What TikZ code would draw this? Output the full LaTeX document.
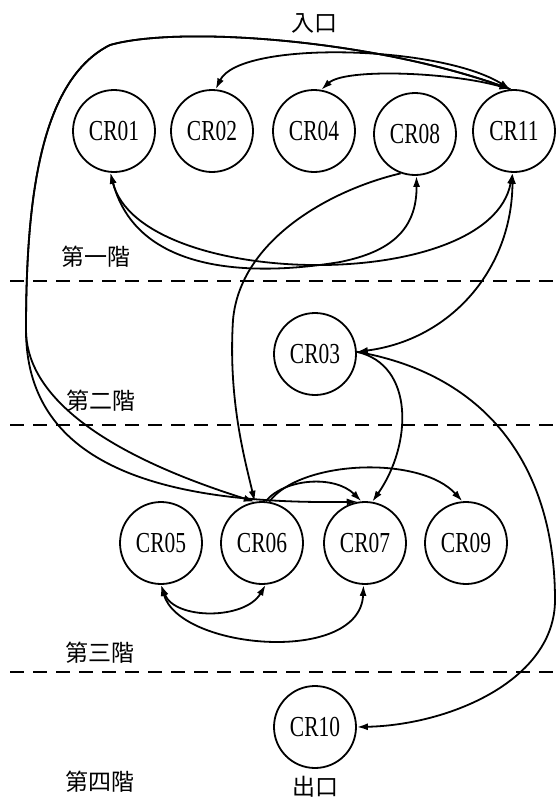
\documentclass[tikz,border=0pt]{standalone}
\usepackage{fontspec}
\setmainfont{Liberation Serif}
\newfontfamily\cjk{Noto Sans CJK TC}
\usetikzlibrary{arrows.meta}
\newcommand\crtext[1]{\scalebox{0.74}[1]{\fontsize{29}{29}\selectfont #1}}
\tikzset{
  room/.style={circle, draw, line width=1.8pt, minimum size=82pt, inner sep=0pt},
  floorlab/.style={font=\cjk\fontsize{23}{23}\selectfont, inner sep=0pt},
  edge/.style={line width=1.8pt},
  tipped/.style={edge, -{Latex[length=11pt,width=7pt]}},
  both/.style={edge, {Latex[length=11pt,width=7pt]}-{Latex[length=11pt,width=7pt]}},
  floorline/.style={line width=1.6pt, dash pattern=on 14pt off 9pt},
}
\begin{document}
\begin{tikzpicture}[x=1pt,y=-1pt]
\useasboundingbox (0,0) rectangle (559,800);
% nodes
\node[room] (n01) at (114,131) {\crtext{CR01}};
\node[room] (n02) at (212,131) {\crtext{CR02}};
\node[room] (n04) at (314,131) {\crtext{CR04}};
\node[room] (n08) at (415,134) {\crtext{CR08}};
\node[room] (n11) at (514,131) {\crtext{CR11}};
\node[room] (n03) at (315,354) {\crtext{CR03}};
\node[room] (n05) at (161,543) {\crtext{CR05}};
\node[room] (n06) at (262,543) {\crtext{CR06}};
\node[room] (n07) at (365,543) {\crtext{CR07}};
\node[room] (n09) at (466,543) {\crtext{CR09}};
\node[room] (n10) at (315,727) {\crtext{CR10}};
% labels
\node[floorlab] (entry) at (314,23) {入口};
\node[floorlab] (exit) at (315,787) {出口};
\node[floorlab] (f1) at (96,257) {第一階};
\node[floorlab] (f2) at (101,401) {第二階};
\node[floorlab] (f3) at (100,653) {第三階};
\node[floorlab] (f4) at (100,782) {第四階};
% floor separators
\coordinate (d1a) at (10,281); \coordinate (d1b) at (553,281);
\coordinate (d2a) at (10,425); \coordinate (d2b) at (553,425);
\coordinate (d3a) at (10,672); \coordinate (d3b) at (553,672);
\draw[floorline] (d1a) -- (d1b);
\draw[floorline] (d2a) -- (d2b);
\draw[floorline] (d3a) -- (d3b);
% edges, top
\draw[both] (n11.95) .. controls (440,45) and (240,40) .. (n02.85);
\draw[both] (n11.95) .. controls (450,72) and (345,68) .. (n04.80);
% big left curves
\draw[tipped] (n11.95) .. controls (380,40) and (180,25) .. (110,45)
   .. controls (40,80) and (26,200) .. (26,330)
   .. controls (26,390) and (90,450) .. (n06.100);
\draw[tipped] (n11.95) .. controls (380,40) and (180,25) .. (110,45)
   .. controls (40,80) and (26,200) .. (26,330)
   .. controls (26,460) and (150,505) .. (n07.100);
% bottom arcs of top row
\draw[both] (n01.265) .. controls (140,290) and (490,295) .. (n11.268);
\draw[both] (n01.265) .. controls (140,285) and (280,272) .. (340,262)
   .. controls (390,252) and (417,230) .. (n08.272);
% CR08 to CR06
\draw[tipped] (n08.250) .. controls (330,190) and (240,240) .. (233,320)
   .. controls (228,400) and (245,460) .. (n06.100);
% CR11 to CR03
\draw[both] (n11.268) .. controls (512,270) and (450,340) .. (n03.3);
% CR03 to CR07 and CR10
\draw[tipped] (n03.3) .. controls (415,365) and (412,445) .. (n07.80);
\draw[tipped] (n03.3) .. controls (490,375) and (555,470) .. (555,600)
   .. controls (555,680) and (450,725) .. (n10.0);
% CR06 arcs
\draw[tipped] (n06.85) .. controls (285,478) and (335,475) .. (n07.95);
\draw[tipped] (n06.80) .. controls (300,460) and (420,455) .. (n09.95);
% bottom arcs third floor
\draw[both] (n05.270) .. controls (175,620) and (245,620) .. (n06.275);
\draw[both] (n05.270) .. controls (180,650) and (360,665) .. (n07.268);
\end{tikzpicture}
\end{document}
